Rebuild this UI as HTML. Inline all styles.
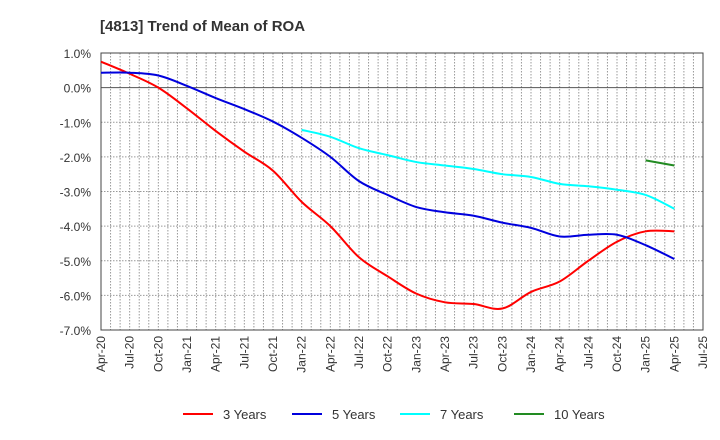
<!DOCTYPE html>
<html><head><meta charset="utf-8"><style>
body{margin:0;background:#fff;font-family:"Liberation Sans",sans-serif}
svg{display:block}
text{font-family:"Liberation Sans",sans-serif;fill:#333}
</style></head><body>
<svg id="chart" width="720" height="440">
<text x="100" y="31" font-size="15" font-weight="bold">[4813]  Trend of Mean of ROA</text>
<g id="grid"></g><g id="axes"></g><g id="series"></g><g id="legend"></g>
</svg>
<script>
const categories=["Apr-20","Jul-20","Oct-20","Jan-21","Apr-21","Jul-21","Oct-21","Jan-22","Apr-22","Jul-22","Oct-22","Jan-23","Apr-23","Jul-23","Oct-23","Jan-24","Apr-24","Jul-24","Oct-24","Jan-25","Apr-25","Jul-25"];
const yTicks=[1,0,-1,-2,-3,-4,-5,-6,-7];
const s3=[0.75,0.4,0.0,-0.6,-1.25,-1.85,-2.4,-3.3,-4.0,-4.9,-5.45,-5.95,-6.2,-6.25,-6.38,-5.9,-5.6,-5.0,-4.45,-4.15,-4.15];
const s5=[0.43,0.43,0.35,0.05,-0.3,-0.62,-0.98,-1.45,-2.0,-2.7,-3.1,-3.45,-3.6,-3.7,-3.9,-4.05,-4.3,-4.25,-4.25,-4.55,-4.95];
const s7=[null,null,null,null,null,null,null,-1.22,-1.42,-1.75,-1.95,-2.15,-2.25,-2.35,-2.5,-2.58,-2.78,-2.85,-2.95,-3.1,-3.5];
const s10=[null,null,null,null,null,null,null,null,null,null,null,null,null,null,null,null,null,null,null,-2.1,-2.25];
const seriesNames=["3 Years","5 Years","7 Years","10 Years"];
const L=101,R=703,T=53,B=330;
const months=(categories.length-1)*3;
const x=i=>L+(R-L)*i*3/months;
const xm=m=>L+(R-L)*m/months;
const y=v=>T+(1-v)/8*(B-T);
const NS="http://www.w3.org/2000/svg";
function mk(tag,attrs,parent){const e=document.createElementNS(NS,tag);for(const k in attrs)e.setAttribute(k,attrs[k]);parent.appendChild(e);return e;}
const grid=document.getElementById('grid'),axes=document.getElementById('axes'),ser=document.getElementById('series'),leg=document.getElementById('legend');
for(let m=1;m<months;m++){const l=mk('line',{x1:xm(m),x2:xm(m),y1:T,y2:B,stroke:'#999','stroke-dasharray':'1.5,1.5','stroke-width':1},grid);

}
yTicks.forEach(v=>{if(v!==1&&v!==-7&&v!==0){const l=mk('line',{x1:L,x2:R,y1:y(v),y2:y(v),stroke:'#999','stroke-dasharray':'1.5,1.5'},grid);

}
const t=mk('text',{x:L-10,y:y(v)+5,'text-anchor':'end','font-size':12},axes);t.textContent=v.toFixed(1)+'%';

});
const z=mk('line',{x1:L,x2:R,y1:y(0),y2:y(0),stroke:'#555'},grid);


const fr=mk('rect',{x:L,y:T,width:R-L,height:B-T,fill:'none',stroke:'#444'},axes);


categories.forEach((c,i)=>{const t=mk('text',{transform:`translate(${x(i)+4},${B+6}) rotate(-90)`,'text-anchor':'end','font-size':12},axes);t.textContent=c;

});
function path(arr){const p=[];arr.forEach((v,i)=>{if(v!==null)p.push([x(i),y(v)]);});
if(p.length<3)return 'M'+p.map(q=>q.join(',')).join('L');
let d='M'+p[0].join(',');
for(let i=0;i<p.length-1;i++){const p0=p[i-1]||p[i],p1=p[i],p2=p[i+1],p3=p[i+2]||p2;
const c1=[p1[0]+(p2[0]-p0[0])/6,p1[1]+(p2[1]-p0[1])/6],c2=[p2[0]-(p3[0]-p1[0])/6,p2[1]-(p3[1]-p1[1])/6];
d+=`C${c1.join(',')} ${c2.join(',')} ${p2.join(',')}`;}return d;}
const colors=['#ff0000','#0000dd','#00ffff','#228b22'];
[s3,s5,s7,s10].forEach((s,k)=>{const e=mk('path',{d:path(s),fill:'none',stroke:colors[k],'stroke-width':2},ser);

});
const lx=[183,292,400,514];
seriesNames.forEach((n,k)=>{const g=mk('g',{},leg);


mk('line',{x1:lx[k],x2:lx[k]+30,y1:414,y2:414,stroke:colors[k],'stroke-width':2},g);
const t=mk('text',{x:lx[k]+40,y:419,'font-size':13},g);t.textContent=n;});
</script>
</body></html>
